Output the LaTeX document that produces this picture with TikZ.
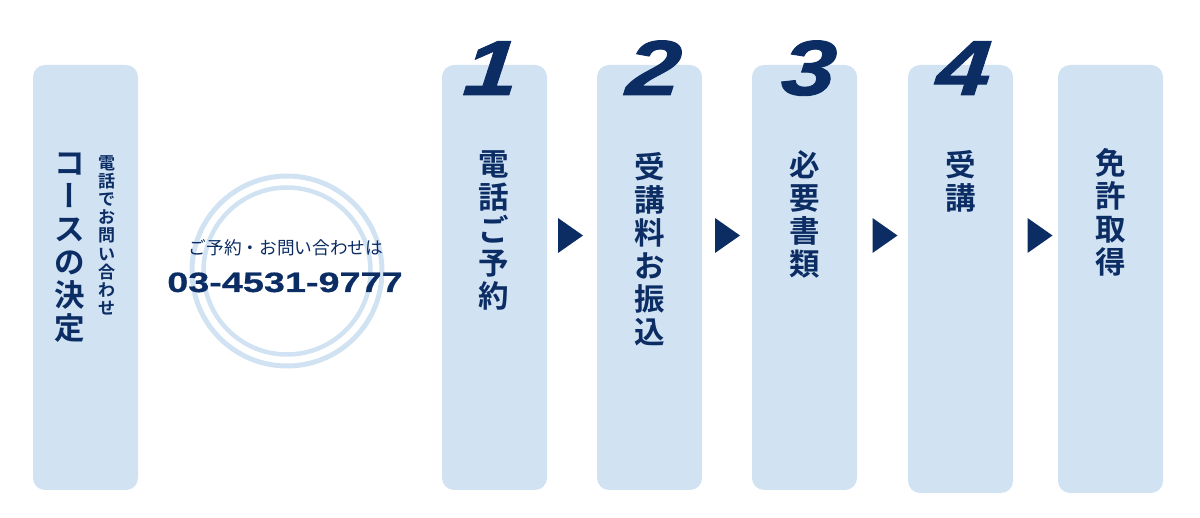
\documentclass[tikz,border=0pt]{standalone}
\usepackage{fontspec}
\usepackage{graphicx}
\newfontfamily\jpb{Noto Sans CJK JP Bold}
\newfontfamily\jpr{Noto Sans CJK JP}
\newfontfamily\jpbv[RawFeature=+vert]{Noto Sans CJK JP Bold}
\newfontfamily\numfont[FakeStretch=1.25,FakeSlant=0.08,FakeBold=1.2]{Liberation Sans Bold Italic}
\newfontfamily\telfont[FakeStretch=1.35,FakeBold=0.6]{Liberation Sans Bold}
\definecolor{navy}{HTML}{0B2D64}
\definecolor{boxc}{HTML}{D1E2F3}
\definecolor{ringc}{HTML}{D1E2F3}
\tikzset{
  box/.style={fill=boxc, rounded corners=12pt, minimum width=105pt, minimum height=425pt, inner sep=0pt, draw=none},
  tallbox/.style={box, minimum height=428pt},
  vlab/.style={text=navy, font=\jpb\fontsize{30.5}{33}\selectfont, align=center, anchor=north, inner sep=0pt},
  slab/.style={text=navy, font=\jpb\fontsize{17}{18.2}\selectfont, align=center, anchor=north, inner sep=0pt},
  num/.style={text=navy, font=\numfont\fontsize{78}{78}\selectfont, anchor=base, inner sep=0pt},
  tri/.style={fill=navy},
  ring/.style={draw=ringc}
}
\begin{document}
\begin{tikzpicture}[x=1pt,y=-1pt]
\useasboundingbox (0,0) rectangle (1200,518);
% boxes
\node[box] (b0) at (85.5,277.5) {};
\node[box] (b1) at (494.5,277.5) {};
\node[box] (b2) at (649.5,277.5) {};
\node[box] (b3) at (804.5,277.5) {};
\node[tallbox] (b4) at (960.5,279) {};
\node[tallbox] (b5) at (1110.5,279) {};
% step numbers
\node[num] (n1) at (489,95) {1};
\node[num] (n2) at (652,95) {2};
\node[num] (n3) at (807,95) {3};
\node[num] (n4) at (962,95) {4};
% labels
\node[vlab] (l0) at (70,153) {コ\\{\jpbv ー}\\ス\\の\\決\\定};
\node[slab] (s0) at (106.5,155) {電\\話\\で\\お\\問\\い\\合\\わ\\せ};
\node[vlab] (l1) at (493.5,150) {電\\話\\ご\\予\\約};
\node[vlab] (l2) at (649.5,152) {受\\講\\料\\お\\振\\込};
\node[vlab] (l3) at (804.5,150) {必\\要\\書\\類};
\node[vlab] (l4) at (960.5,150) {受\\講};
\node[vlab] (l5) at (1110.5,148) {免\\許\\取\\得};
% circle
\coordinate (cc) at (287,271);
\draw[ring, line width=5pt] (cc) circle[radius=95];
\draw[ring, line width=4.5pt] (cc) circle[radius=83.5];
\node[text=navy, font=\jpr\fontsize{17.7}{18}\selectfont, inner sep=0pt] (q) at (286,247.5) {ご予約・お問い合わせは};
\node[text=navy, font=\telfont\fontsize{28}{28}\selectfont, anchor=base, inner sep=0pt] (tel) at (285,292) {03-4531-9777};
% arrows
\coordinate (a1) at (570.5,235.5);
\coordinate (a2) at (727.5,235.5);
\coordinate (a3) at (885,235.5);
\coordinate (a4) at (1040,235.5);
\foreach \a in {a1,a2,a3,a4}{
  \fill[tri] (\a) ++(-12.5,-17.5) -- ++(25,17.5) -- ++(-25,17.5) -- cycle;
}
\end{tikzpicture}
\end{document}
